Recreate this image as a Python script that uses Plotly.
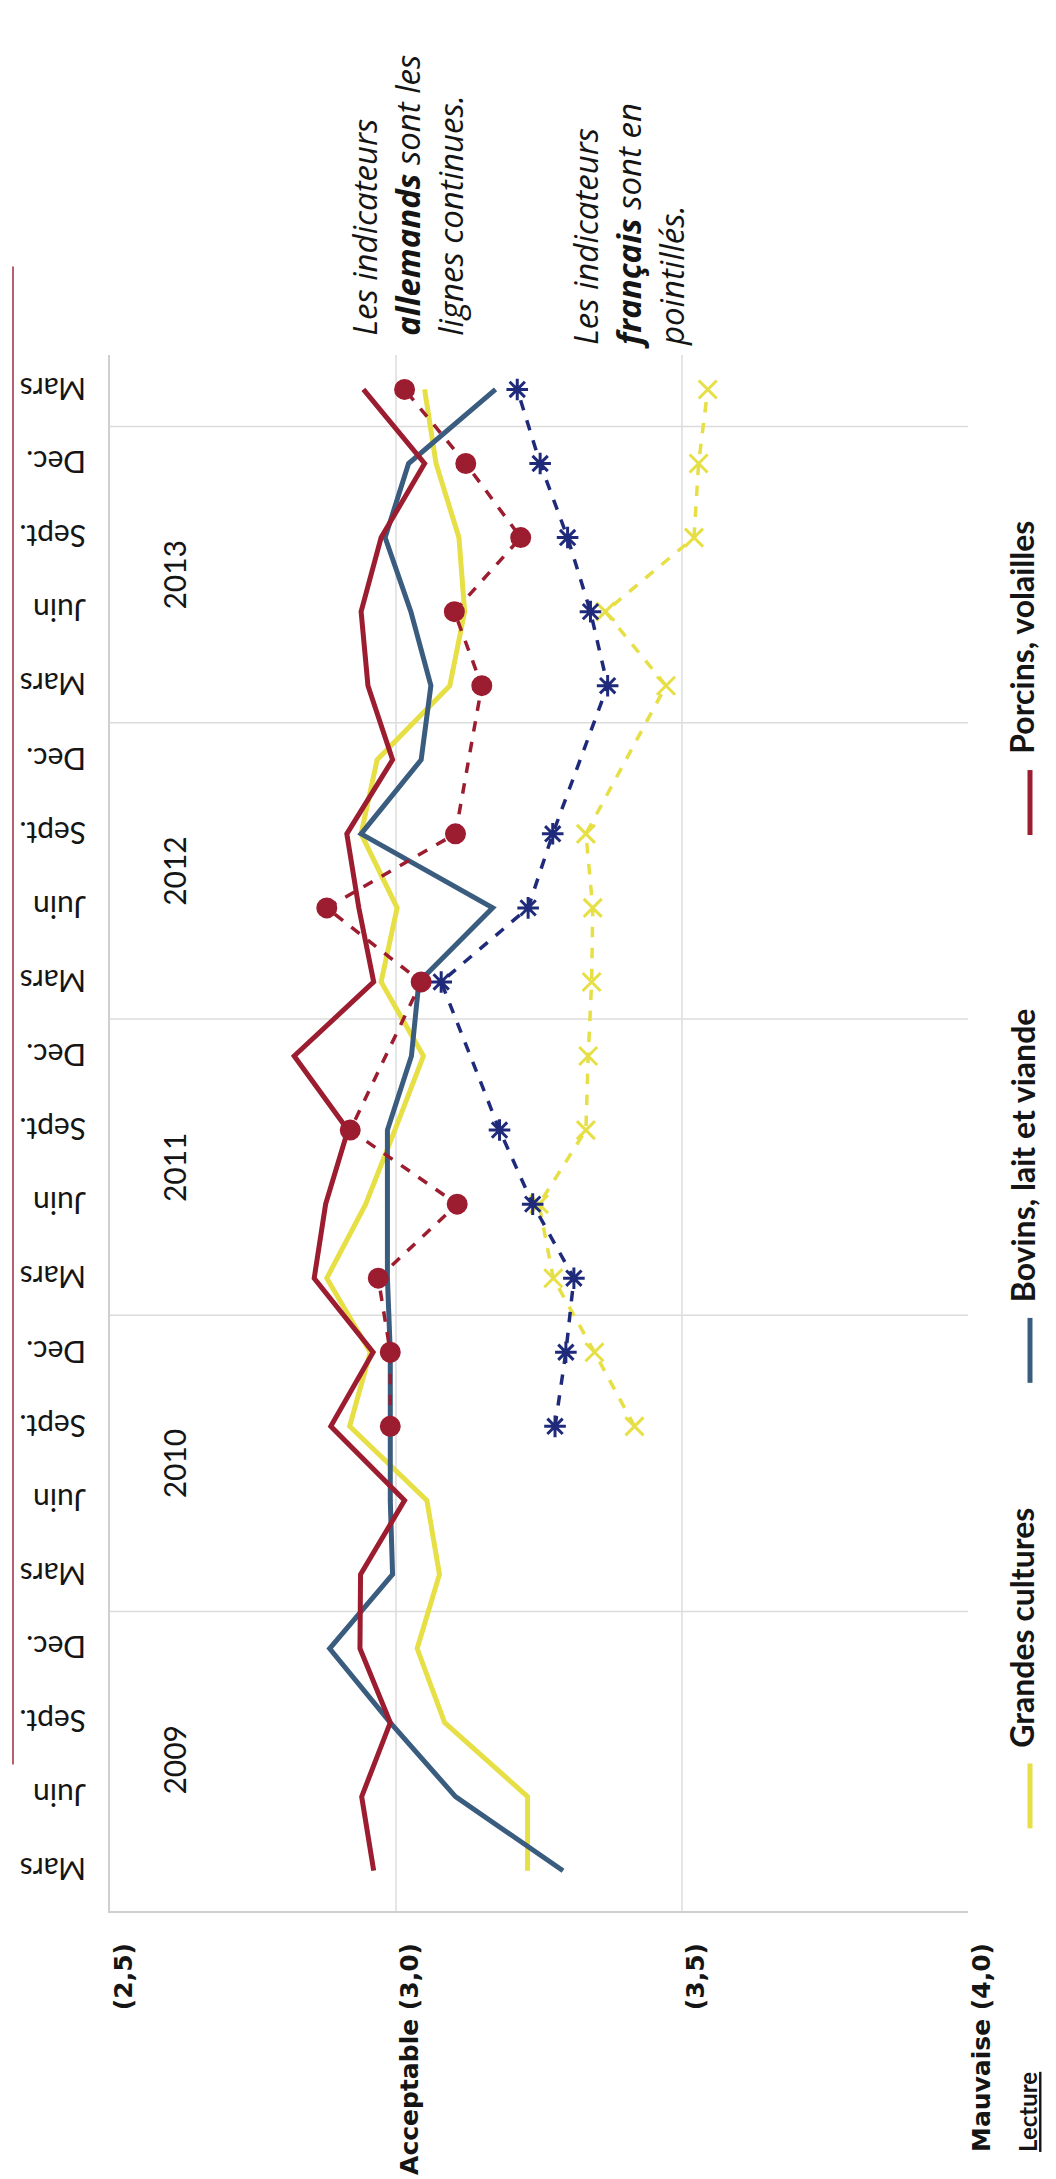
"""Indicateurs de situation financiere, Allemagne (continu) vs France (pointille) - vue pivotee."""
import plotly.graph_objects as go

# ---- data ----------------------------------------------------------------
MONTHS = ["Mars", "Juin", "Sept.", "Dec."] * 5 + ["Mars"]
YEARS = ["2009", "2010", "2011", "2012", "2013", "2014"]

VALUE_TICKS = [2.5, 3.0, 3.5, 4.0]
VALUE_LABELS = ["(2,5)", "Acceptable (3,0)", "(3,5)", "Mauvaise (4,0)"]

SERIES = ["Grandes cultures", "Bovins, lait et viande", "Porcins, volailles"]

# lignes continues : indicateurs allemands
de_grandes = [3.23, 3.23, 3.085, 3.037, 3.076, 3.054, 2.919, 2.955, 2.879, 2.947, 2.998,
              3.048, 2.974, 3.002, 2.939, 2.967, 3.094, 3.12, 3.11, 3.07, 3.05]
de_bovins = [3.292, 3.104, 2.99, 2.884, 2.994, 2.99, 2.99, 2.99, 2.985, 2.985, 2.985,
             3.027, 3.04, 3.169, 2.939, 3.044, 3.061, 3.026, 2.981, 3.022, 3.174]
de_porcins = [2.961, 2.94, 2.99, 2.937, 2.938, 3.015, 2.886, 2.96, 2.857, 2.877, 2.916,
              2.822, 2.961, 2.935, 2.914, 2.994, 2.951, 2.939, 2.974, 3.05, 2.943]

# pointilles : indicateurs francais
fr_grandes = [None] * 6 + [3.417, 3.347, 3.275, 3.25, 3.332, 3.336, 3.342, 3.344, 3.332,
                           None, 3.472, 3.366, 3.521, 3.529, 3.545]
fr_bovins = [None] * 6 + [3.278, 3.297, 3.311, 3.239, 3.181, None, 3.079, 3.231, 3.274,
                          None, 3.37, 3.34, 3.30, 3.252, 3.212]
fr_porcins = [None] * 6 + [2.99, 2.99, 2.969, 3.107, 2.92, None, 3.044, 2.879, 3.104,
                           None, 3.15, 3.102, 3.218, 3.122, 3.015]

YELLOW = "#e6df45"
BLUE = "#3a5c7e"
NAVY = "#1f2b7a"
RED = "#9c1c30"
INK = "#151515"

# ---- page geometry (pixels) ----------------------------------------------
W, H = 1056, 2179
PL, PR, PT, PB = 102, 960, 347, 1929


def px_x(px):
    return (px - PL) / (PR - PL)


def px_y(py):
    return (PB - py) / (PB - PT)


idx = list(range(len(MONTHS)))

fig = go.Figure()

solid = [(de_grandes, YELLOW), (de_bovins, BLUE), (de_porcins, RED)]
for vals, col in solid:
    fig.add_trace(go.Scatter(
        x=vals, y=idx, mode="lines",
        line={"color": col, "width": 5},
        showlegend=False, hoverinfo="skip"
    ))

dashed = [
    (fr_grandes, YELLOW, "x-thin-open", 18),
    (fr_bovins, NAVY, "asterisk-open", 18),
    (fr_porcins, RED, "circle", 18),
]
for vals, col, sym, size in dashed:
    fig.add_trace(go.Scatter(
        x=vals, y=idx, mode="lines+markers", connectgaps=True,
        line={"color": col, "width": 3.5, "dash": "dash"},
        marker={"symbol": sym, "size": size, "color": col, "line": {"color": col, "width": 3}},
        showlegend=False, hoverinfo="skip"
    ))

shapes = []
# vertical gridlines (inner ticks only)
for v in VALUE_TICKS[1:-1]:
    shapes.append(dict(type="line", xref="x", yref="paper", x0=v, x1=v, y0=0, y1=1,
                       line={"color": "#dcdcdc", "width": 1.5}, layer="below"))
# year separators between Dec. and Mars
for k in range(1, len(YEARS)):
    yy = 4 * k - 0.5
    shapes.append(dict(type="line", xref="paper", yref="y", x0=0, x1=1, y0=yy, y1=yy,
                       line={"color": "#dcdcdc", "width": 1.5}, layer="below"))
# scanned page edge
shapes.append(dict(type="line", xref="paper", yref="paper", x0=px_x(5), x1=px_x(5),
                   y0=px_y(257), y1=px_y(1780), line={"color": "#b9606e", "width": 2}))

annotations = []
# month labels (upside down, as on the scanned page)
for i, m in zip(idx, MONTHS):
    annotations.append(dict(x=px_x(80), xref="paper", y=i, yref="y", text=m,
                            xanchor="right", yanchor="middle", textangle=180, showarrow=False,
                            font={"family": "Lato", "size": 30, "color": INK}))
# year labels
for k, yr in enumerate(YEARS):
    yc = 1.5 + 4 * k if k < len(YEARS) - 1 else 21.1
    annotations.append(dict(x=px_x(166), xref="paper", y=yc, yref="y", text=yr,
                            xanchor="center", yanchor="middle",
                            textangle=-90, showarrow=False,
                            font={"family": "Lato", "size": 30, "color": INK}))

# notes
note_font = {"family": "Open Sans", "size": 33, "color": INK, "style": "italic"}
annotations.append(dict(
    x=px_x(400), xref="paper", y=px_y(330), yref="paper", yanchor="bottom", xanchor="center",
    text="Les indicateurs<br><b>allemands</b> sont les<br>lignes continues.",
    textangle=-90, align="left", showarrow=False, font=note_font))
annotations.append(dict(
    x=px_x(620), xref="paper", y=px_y(343), yref="paper", yanchor="bottom", xanchor="center",
    text="Les indicateurs<br><b>français</b> sont en<br>pointillés.",
    textangle=-90, align="left", showarrow=False, font=note_font))

# manual legend along the right edge: swatch then label, reading upwards
leg_font = {"family": "Lato", "size": 32, "color": INK, "weight": "bold"}
leg_pos = [1845, 1392, 835]  # bottom of each colour swatch
for name, col, yb in zip(SERIES, [YELLOW, BLUE, RED], leg_pos):
    shapes.append(dict(type="line", xref="paper", yref="paper", x0=px_x(1022), x1=px_x(1022),
                       y0=px_y(yb), y1=px_y(yb - 66), line={"color": col, "width": 5}))
    annotations.append(dict(x=px_x(1014), xref="paper", y=px_y(yb - 80), yref="paper",
                            xanchor="center", yanchor="bottom", text=name, textangle=-90,
                            showarrow=False, font=leg_font))

annotations.append(dict(x=px_x(1020), xref="paper", y=px_y(2176), yref="paper",
                        xanchor="center", yanchor="bottom", text="<b><u>Lecture</u></b>",
                        textangle=-90, showarrow=False,
                        font={"family": "Lato", "size": 24, "color": INK}))

fig.update_layout(
    width=W, height=H,
    margin={"l": PL, "r": W - PR, "t": PT, "b": H - PB, "pad": 0},
    paper_bgcolor="white", plot_bgcolor="white",
    shapes=shapes, annotations=annotations,
    xaxis={
        "range": [VALUE_TICKS[0], VALUE_TICKS[-1]],
        "tickvals": VALUE_TICKS, "ticktext": VALUE_LABELS,
        "tickangle": -90, "showgrid": False, "zeroline": False,
        "showline": True, "linecolor": "#cfcfcf", "linewidth": 2,
        "ticks": "", "ticklabelstandoff": 20, "ticklabelshift": 14,
        "tickfont": {"family": "DejaVu Sans", "size": 25, "color": INK, "weight": "bold"},
    },
    yaxis={
        "range": [-0.544, 20.465],
        "showticklabels": False, "showgrid": False, "zeroline": False,
        "showline": True, "linecolor": "#cfcfcf", "linewidth": 2, "ticks": "",
    },
)

fig.write_html("out.html")
